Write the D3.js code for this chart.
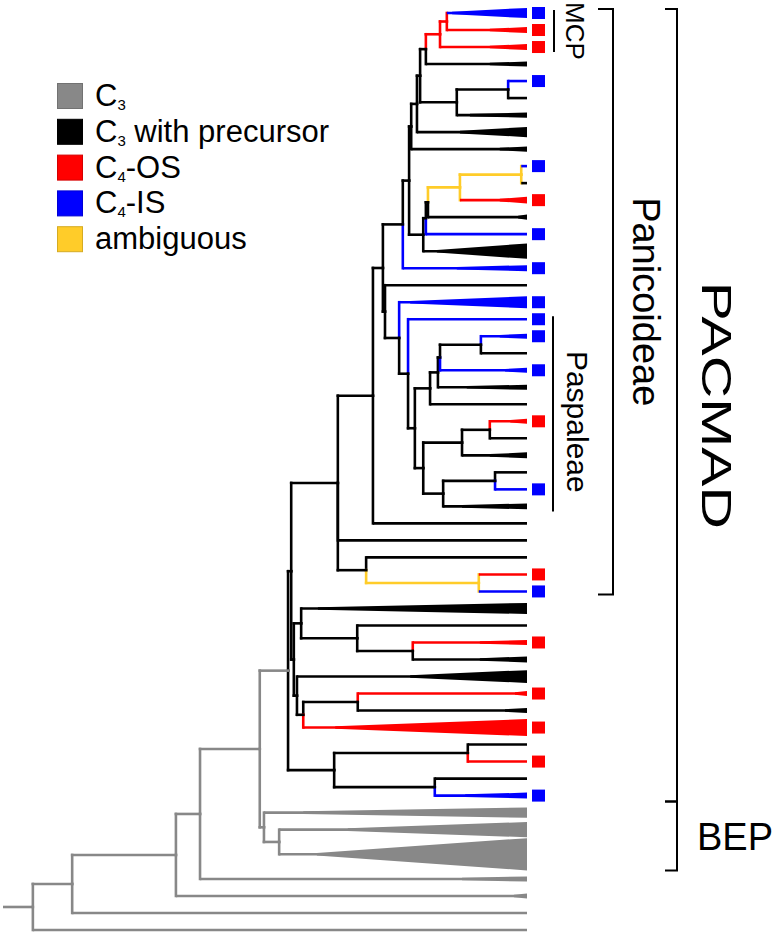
<!DOCTYPE html>
<html><head><meta charset="utf-8">
<script src="https://cdn.jsdelivr.net/npm/d3@7"></script>
<style>body{margin:0;background:#fff}svg{display:block}text{font-family:"Liberation Sans",Arial,sans-serif}</style>
</head><body>
<svg id="chart" width="778" height="935"></svg>
<script>
// ---------- DATA ----------
const stateKeys   = ["C3","pre","OS","IS","amb"];
const stateColors = ["#888888","#000000","#ff0000","#0000ff","#ffcc29"];
const legendMain  = ["C","C","C","C","ambiguous"];
const legendSub   = ["3","3","4","4",""];
const legendRest  = [""," with precursor","-OS","-IS",""];

// tips, top to bottom: parent node, state, crown depth of collapsed clade (null = single lineage), clade span (tip slots)
const tipParents = ["n34","n34","n33","n31","n35","n35","n32","n29","n27","n39","n39","n38","n37","n36","n28","n24","n25","n40","n41","n47","n47","n46","n45","n43","n50","n50","n48","n51","n51","n49","n20","n12","n21","n22","n22","n14","n16","n17","n17","n15","n19","n19","n18","n10","n10","n11","n11","n6","n7","n7","n3","n2","n1","n0"];
const tipStates = ["IS","OS","OS","pre","IS","pre","pre","pre","pre","IS","pre","OS","pre","IS","pre","IS","pre","IS","IS","IS","pre","IS","pre","pre","OS","pre","pre","pre","IS","pre","pre","pre","pre","OS","IS","pre","pre","OS","pre","pre","OS","pre","OS","pre","OS","pre","IS","C3","C3","C3","C3","C3","C3","C3"];
const tipCrown = [0.857,0.929,0.929,0.929,null,null,0.891,0.872,0.948,null,null,0.948,0.983,null,0.828,0.866,null,0.777,null,0.948,null,0.958,0.885,null,0.968,null,0.929,null,null,0.876,null,null,null,null,null,0.601,null,0.910,0.910,0.777,0.977,0.958,0.634,null,null,null,0.882,0.573,0.658,0.599,0.876,0.975,null,null];
const tipSpan = [0.6,0.35,0.35,0.3,0,0,0.3,0.6,0.3,0,0,0.4,0.3,0,0.9,0.35,0,0.7,0,0.3,0,0.3,0.3,0,0.3,0,0.35,0,0,0.35,0,0,0,0,0,0.65,0,0.3,0.35,0.75,0.3,0.3,1.0,0,0,0,0.35,0.6,0.9,1.9,0.3,0.3,0,0];
const tipDepth = 1.0;

// internal nodes
const nodeIds = d3.range(52).map(i => "n" + i);
const nodeParents = ["", "n0","n1","n2","n3","n4","n4","n6","n5","n5","n9","n9","n8","n8","n13","n13","n14","n16","n15","n18","n12","n12","n21","n20","n23","n23","n24","n26","n26","n27","n29","n30","n30","n31","n33","n32","n28","n36","n37","n38","n25","n40","n41","n42","n42","n43","n45","n46","n44","n44","n48","n49"];
const nodeDepths = [0.057,0.132,0.330,0.376,0.490,0.544,0.498,0.527,0.550,0.632,
  0.887,0.824,0.639,0.555,0.569,0.561,0.676,0.782,0.573,0.677,
  0.706,0.693,0.908,0.725,0.763,0.729,0.775,0.779,0.802,0.790,
  0.796,0.807,0.866,0.834,0.847,0.964,0.807,0.811,0.872,0.989,
  0.756,0.773,0.786,0.815,0.802,0.830,0.834,0.912,0.876,0.840,
  0.929,0.939];
const nodeStates = ["C3","C3","C3","C3","C3","C3","C3","C3",
  "pre","pre","pre","pre","pre","pre","pre","pre","pre","pre","pre","pre","pre","pre",
  "amb","pre","pre","pre","pre","pre","pre","pre","pre","pre","pre",
  "OS","OS","pre","pre","pre","amb","amb",
  "pre","pre","pre","pre","pre","pre","pre","pre","pre","pre","pre","pre"];

// clade annotations: label, first tip, last tip
const bars     = [{label:"MCP", from:1, to:3}, {label:"Paspaleae", from:19, to:30}];
const brackets = [{label:"Panicoideae", from:1, to:35}, {label:"PACMAD", from:1, to:47}, {label:"BEP", from:48, to:50}];

// ---------- BUILD ----------
const color = d3.scaleOrdinal(stateKeys, stateColors);
const rows = [];
nodeIds.forEach((id,i)=>rows.push({id, parent: nodeParents[i] || null, depth: nodeDepths[i], state: nodeStates[i]}));
tipParents.forEach((p,i)=>rows.push({id:"t"+(i+1), parent:p, depth:tipDepth, state:tipStates[i], crown:tipCrown[i], span:tipSpan[i], order:i}));
const root = d3.stratify().id(d=>d.id).parentId(d=>d.parent)(rows);
root.eachAfter(n => { n.minOrder = n.children ? d3.min(n.children, c => c.minOrder) : n.data.order; });
root.each(n => { if (n.children) n.children.sort((a,b) => a.minOrder - b.minOrder); });
const leaves = root.leaves();

let pos = 0;
leaves.forEach((l,i) => {
  const w = Math.max(1, l.data.span);
  if (i > 0) pos += (Math.max(1, leaves[i-1].data.span) + w) / 2;
  l.slot = pos;
});
const y = d3.scaleLinear().domain([0, pos]).range([13, 930]);
const x = d3.scaleLinear().domain([0, 1]).range([3, 527]);
const slotPx = y(1) - y(0);
leaves.forEach(l => l.py = y(l.slot));
root.eachAfter(n => { if (n.children) n.py = (n.children[0].py + n.children[n.children.length-1].py) / 2; });
const tipY = i => leaves[i-1].py;

const svg = d3.select("#chart");
const g = svg.append("g");
const SW = 2.6;
const colored = new Set(["OS","IS","amb"]);

// root stem
g.append("line").attr("x1", x(0)).attr("x2", x(root.data.depth)).attr("y1", root.py).attr("y2", root.py)
  .attr("stroke", color(root.data.state)).attr("stroke-width", SW);

// vertical segments
root.descendants().filter(n => n.children).forEach(n => {
  n.children.forEach(c => {
    const col = colored.has(n.data.state) ? color(n.data.state) : color(c.data.state);
    g.append("line").attr("x1", x(n.data.depth)).attr("x2", x(n.data.depth))
      .attr("y1", n.py).attr("y2", c.py).attr("stroke", col)
      .attr("stroke-width", SW).attr("stroke-linecap", "square");
  });
});
// horizontal edges
root.descendants().filter(n => n.parent).forEach(n => {
  g.append("line").attr("x1", x(n.parent.data.depth)).attr("x2", x(n.data.depth))
    .attr("y1", n.py).attr("y2", n.py).attr("stroke", color(n.data.state))
    .attr("stroke-width", SW).attr("stroke-linecap", n.children ? "square" : "butt");
});
// collapsed clades
leaves.filter(l => l.data.crown != null).forEach(l => {
  const h = l.data.span * slotPx / 2;
  g.append("path")
    .attr("d", `M${x(l.data.crown)},${l.py - SW/2}L${x(l.data.depth)},${l.py - h}L${x(l.data.depth)},${l.py + h}L${x(l.data.crown)},${l.py + SW/2}Z`)
    .attr("fill", color(l.data.state));
});
// state boxes
leaves.filter(l => l.data.state === "OS" || l.data.state === "IS").forEach(l => {
  g.append("rect").attr("x", 532).attr("y", l.py - 6).attr("width", 13).attr("height", 12)
    .attr("fill", color(l.data.state));
});

// bars with labels
const barX = [554, 553], barLabelX = [566, 567], barFont = [26, 30], barShift = [0, 8];
bars.forEach((b,i) => {
  const y1 = tipY(b.from) - 3, y2 = tipY(b.to) + 5;
  svg.append("line").attr("x1", barX[i]).attr("x2", barX[i]).attr("y1", y1).attr("y2", y2)
    .attr("stroke", "#000").attr("stroke-width", 2);
  svg.append("text").attr("transform", `translate(${barLabelX[i]},${(y1+y2)/2 + barShift[i]}) rotate(90)`)
    .attr("text-anchor", "middle").attr("font-size", barFont[i]).text(b.label);
});

// brackets
const brX = [613, 677, 677], brTick = [15, 12, 12];
const brTop = [tipY(1) - 4, tipY(1) - 4, tipY(47) + 6];
const brBot = [tipY(35) + 3, tipY(47) + 6, tipY(50) + leaves[49].data.span * slotPx / 2];
brackets.forEach((b,i) => {
  svg.append("path").attr("d", `M${brX[i]-brTick[i]},${brTop[i]}H${brX[i]}V${brBot[i]}H${brX[i]-brTick[i]}`)
    .attr("fill", "none").attr("stroke", "#000").attr("stroke-width", 2);
});
svg.append("text").attr("transform", `translate(633,${(brTop[0]+brBot[0])/2}) rotate(90)`)
  .attr("text-anchor", "middle").attr("font-size", 38).text(brackets[0].label);
svg.append("text").attr("transform", `translate(702,${(brTop[1]+brBot[1])/2}) rotate(90) scale(1.4,1)`)
  .attr("text-anchor", "middle").attr("font-size", 42).text(brackets[1].label);
svg.append("text").attr("x", 697).attr("y", (brTop[2]+brBot[2])/2 + 14)
  .attr("font-size", 38).text(brackets[2].label);

// legend
const lg = svg.append("g");
stateKeys.forEach((k,i) => {
  const yy = 83 + i * 35.8;
  lg.append("rect").attr("x", 57.5).attr("y", yy + 0.5).attr("width", 25).attr("height", 25)
    .attr("fill", stateColors[i]).attr("stroke", d3.color(stateColors[i]).darker(0.5)).attr("stroke-width", 1);
  const t = lg.append("text").attr("x", 95).attr("y", yy + 23).attr("font-size", 31);
  t.append("tspan").text(legendMain[i]);
  if (legendSub[i]) t.append("tspan").attr("font-size", 15).attr("dy", 4).text(legendSub[i]);
  if (legendRest[i]) t.append("tspan").attr("dy", legendSub[i] ? -4 : 0).text(legendRest[i]);
});
</script>
</body></html>
